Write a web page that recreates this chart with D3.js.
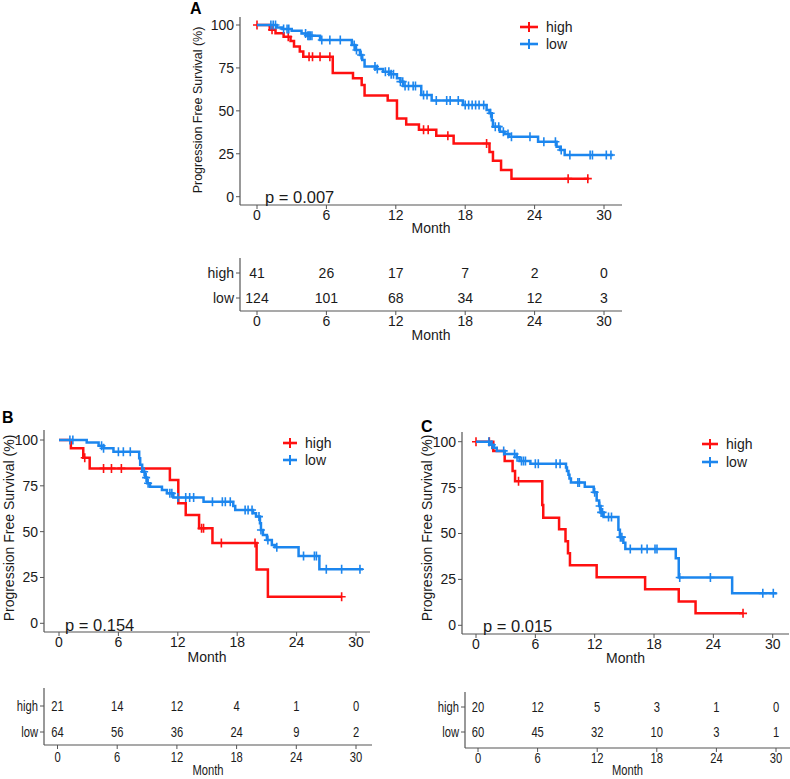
<!DOCTYPE html>
<html><head><meta charset="utf-8">
<script src="https://cdn.jsdelivr.net/npm/d3@7"></script>
<style>
body{margin:0;background:#fff}
svg{display:block}
text{font-family:Arial,"Liberation Sans",sans-serif;fill:#1a1a1a}
</style>
</head><body>
<svg id="chart" width="790" height="779"></svg>
<script>
// ---------- data ----------
const monthTicks = [0, 6, 12, 18, 24, 30];
const survTicks = [0, 25, 50, 75, 100];
const groups = ["high", "low"];
const groupColors = ["#FF1010", "#1C86EE"];

// Panel A
const A_highTimes = [1.1, 1.6, 2.3, 2.9, 3.2, 3.7, 4.0, 6.55, 8.3, 9.05, 9.3, 11.3, 12.1, 12.9, 14.0, 15.5, 17.0, 20.1, 20.4, 21.1, 22.0];
const A_highSurv  = [97.2, 95.2, 93.2, 90.7, 87.5, 84.5, 81.5, 72.0, 69.0, 65.0, 59.0, 56.0, 45.5, 42.0, 39.0, 35.5, 31.0, 26.0, 21.0, 15.5, 10.5];
const A_highCens  = [0, 1.3, 2.7, 4.5, 4.8, 5.45, 6.3, 14.4, 14.8, 16.5, 19.85, 26.9, 28.6];
const A_lowTimes  = [1.7, 2.2, 3.0, 3.85, 4.4, 5.45, 8.2, 8.5, 8.9, 9.1, 9.3, 10.35, 10.9, 11.5, 12.1, 12.4, 12.65, 14.2, 15.1, 17.8, 19.85, 20.1, 20.3, 20.4, 21.0, 21.4, 21.8, 24.3, 25.9, 26.2, 26.6];
const A_lowSurv   = [98.6, 97.7, 96.7, 95.1, 93.8, 91.3, 88.3, 85.4, 82.5, 79.6, 75.8, 74.4, 72.8, 71.3, 69.0, 67.0, 64.5, 59.2, 56.0, 53.4, 50.5, 48.6, 44.5, 40.8, 37.9, 36.5, 34.9, 32.0, 29.1, 27.2, 24.3];
const A_lowCens   = [1.2, 1.4, 1.6, 2.3, 2.6, 2.75, 4.2, 4.4, 4.5, 4.6, 4.75, 5.6, 6.3, 7.2, 8.4, 8.6, 9.0, 10.2, 10.4, 11.1, 11.4, 11.6, 11.8, 12.4, 12.6, 12.8, 13.1, 13.5, 13.7, 14.4, 14.7, 15.5, 16.4, 16.7, 17.4, 18.0, 18.3, 18.6, 18.9, 19.2, 19.6, 20.2, 20.6, 20.9, 21.3, 21.7, 22.0, 23.6, 24.8, 25.8, 26.3, 27.05, 28.8, 29.0, 30.2, 30.6];
const A_ends = [28.7, 30.8];
const A_riskHigh = [41, 26, 17, 7, 2, 0];
const A_riskLow  = [124, 101, 68, 34, 12, 3];

// Panel B
const B_highTimes = [1.2, 2.45, 3.1, 11.2, 12.05, 12.8, 14.15, 15.5, 19.96, 21.1];
const B_highSurv  = [95.5, 90.3, 84.5, 78.2, 65.5, 59.1, 51.8, 43.8, 29.4, 14.5];
const B_highCens  = [2.6, 4.5, 5.3, 6.3, 14.4, 14.6, 16.4, 19.8, 28.55];
const B_lowTimes  = [2.8, 4.0, 4.5, 5.5, 8.1, 8.2, 8.4, 8.7, 8.9, 9.2, 10.4, 10.9, 11.55, 14.6, 17.6, 17.8, 19.6, 19.9, 20.3, 20.4, 20.6, 21.0, 21.5, 21.8, 24.2, 26.3];
const B_lowSurv   = [98.7, 96.9, 95.5, 93.6, 90.0, 86.5, 82.7, 79.5, 76.4, 74.5, 72.7, 70.9, 68.6, 66.3, 64.0, 61.8, 60.0, 58.2, 54.6, 50.9, 48.2, 45.4, 42.7, 41.5, 36.7, 29.5];
const B_lowCens   = [1.1, 1.4, 4.3, 4.5, 6.0, 6.5, 7.2, 8.6, 8.8, 9.0, 11.2, 11.4, 12.0, 12.8, 13.2, 13.6, 15.5, 16.5, 16.8, 17.3, 18.8, 19.1, 19.5, 20.2, 20.4, 21.1, 22.0, 24.7, 25.8, 26.0, 27.0, 28.55, 30.4];
const B_ends = [28.6, 30.7];
const B_riskHigh = [21, 14, 12, 4, 1, 0];
const B_riskLow  = [64, 56, 36, 24, 9, 2];

// Panel C
const C_highTimes = [1.75, 2.9, 3.7, 3.95, 6.7, 6.8, 8.4, 9.05, 9.3, 9.5, 12.2, 17.1, 20.5, 22.2];
const C_highSurv  = [95.0, 89.5, 84.0, 78.5, 65.5, 58.6, 52.3, 45.8, 39.2, 32.7, 26.2, 19.6, 13.0, 6.5];
const C_highCens  = [0, 1.35, 4.3, 27.0];
const C_lowTimes  = [1.4, 1.8, 2.1, 2.9, 4.1, 4.4, 5.5, 9.1, 9.2, 9.35, 9.45, 9.6, 11.0, 11.9, 12.2, 12.45, 12.6, 12.9, 14.4, 14.55, 14.9, 15.1, 20.2, 20.5, 25.9];
const C_lowSurv   = [98.3, 96.7, 95.0, 93.3, 91.5, 89.5, 88.0, 86.0, 84.0, 82.0, 80.0, 77.8, 75.5, 72.5, 68.0, 65.0, 61.5, 59.0, 52.0, 48.0, 45.0, 41.5, 36.5, 26.0, 17.4];
const C_lowCens   = [1.3, 1.6, 2.8, 3.9, 4.15, 4.6, 4.8, 5.0, 6.0, 6.3, 8.1, 8.5, 10.3, 10.45, 12.0, 12.5, 12.65, 12.8, 13.4, 13.7, 14.6, 14.75, 15.6, 16.75, 17.3, 18.1, 18.3, 20.6, 23.7, 29.0, 30.06];
const C_ends = [27.0, 30.4];
const C_riskHigh = [20, 12, 5, 3, 1, 0];
const C_riskLow  = [60, 45, 32, 10, 3, 1];

// ---------- drawing ----------
const svg = d3.select("#chart");
const axisColor = "#555";

function survAt(times, surv, t) {
  let s = 100;
  for (let i = 0; i < times.length; i++) if (times[i] <= t + 1e-9) s = surv[i];
  return s;
}

function drawPanel(cfg, curves, risks) {
  const g = svg.append("g");
  const x = d3.scaleLinear().domain([0, 30]).range([cfg.x0, cfg.x1]);
  const y = d3.scaleLinear().domain([0, 100]).range([cfg.yBot, cfg.yTop]);

  // axes
  g.append("line").attr("x1", cfg.axisX).attr("x2", cfg.axisX).attr("y1", cfg.axisTop).attr("y2", cfg.axisY)
    .attr("stroke", axisColor).attr("stroke-width", 1.2);
  g.append("line").attr("x1", cfg.axisX).attr("x2", cfg.axisRight).attr("y1", cfg.axisY).attr("y2", cfg.axisY)
    .attr("stroke", axisColor).attr("stroke-width", 1.2);
  survTicks.forEach(v => {
    g.append("line").attr("x1", cfg.axisX - 4).attr("x2", cfg.axisX).attr("y1", y(v)).attr("y2", y(v)).attr("stroke", axisColor);
    g.append("text").attr("x", cfg.axisX - 6).attr("y", y(v)).attr("dy", "0.35em").attr("text-anchor", "end")
      .attr("font-size", 14).text(v);
  });
  monthTicks.forEach(v => {
    g.append("line").attr("x1", x(v)).attr("x2", x(v)).attr("y1", cfg.axisY).attr("y2", cfg.axisY + 4).attr("stroke", axisColor);
    g.append("text").attr("x", x(v)).attr("y", cfg.tickY).attr("dy", "0.35em").attr("text-anchor", "middle")
      .attr("font-size", 14).text(v);
  });
  g.append("text").attr("x", (cfg.axisX + cfg.axisRight) / 2).attr("y", cfg.monthY).attr("dy", "0.35em")
    .attr("text-anchor", "middle").attr("font-size", 14).text("Month");
  g.append("text").attr("transform", `translate(${cfg.ytX},${cfg.ytY}) rotate(-90)`).attr("dy", "0.35em")
    .attr("text-anchor", "middle").attr("font-size", cfg.ytSize).text("Progression Free Survival (%)");
  g.append("text").attr("x", cfg.labX).attr("y", cfg.labY).attr("font-size", 16).attr("font-weight", "bold")
    .style("fill", "#000").text(cfg.label);

  // curves
  const line = d3.line().x(d => x(d[0])).y(d => y(d[1])).curve(d3.curveStepAfter);
  curves.forEach((c, i) => {
    const pts = [[0, 100]].concat(c.times.map((t, k) => [t, c.surv[k]]));
    pts.push([c.end, c.surv[c.surv.length - 1]]);
    g.append("path").attr("d", line(pts)).attr("fill", "none").attr("stroke", groupColors[i]).attr("stroke-width", 2.5);
    c.cens.forEach(t => {
      const cx = x(t), cy = y(survAt(c.times, c.surv, t));
      g.append("path").attr("d", `M${cx - 4},${cy}H${cx + 4}M${cx},${cy - 4.5}V${cy + 4.5}`)
        .attr("stroke", groupColors[i]).attr("stroke-width", 1.6);
    });
  });

  // legend
  groups.forEach((nm, i) => {
    const ly = cfg.legY[i];
    g.append("line").attr("x1", cfg.legX0).attr("x2", cfg.legX1).attr("y1", ly).attr("y2", ly)
      .attr("stroke", groupColors[i]).attr("stroke-width", 2.6);
    const mx = (cfg.legX0 + cfg.legX1) / 2;
    g.append("path").attr("d", `M${mx},${ly - 5}V${ly + 5}`).attr("stroke", groupColors[i]).attr("stroke-width", 2);
    g.append("text").attr("x", cfg.legX1 + 8).attr("y", ly).attr("dy", "0.35em").attr("font-size", 14).text(nm);
  });

  // p value
  g.append("text").attr("x", cfg.pX).attr("y", cfg.pY).attr("dy", "0.35em").attr("font-size", 16.5).text(cfg.p);

  // risk table
  const t = cfg.table;
  const xt = d3.scaleLinear().domain([0, 30]).range([t.x0, t.x1]);
  const sq = t.squeeze;
  function txt(px, py, s, anchor) {
    g.append("text").attr("transform", `translate(${px},${py}) scale(${sq},1)`).attr("dy", "0.35em")
      .attr("text-anchor", anchor).attr("font-size", 14).text(s);
  }
  g.append("line").attr("x1", t.axisX).attr("x2", t.axisX).attr("y1", t.axisTop).attr("y2", t.axisY)
    .attr("stroke", axisColor).attr("stroke-width", 1.2);
  g.append("line").attr("x1", t.axisX).attr("x2", t.axisRight).attr("y1", t.axisY).attr("y2", t.axisY)
    .attr("stroke", axisColor).attr("stroke-width", 1.2);
  groups.forEach((nm, i) => {
    const ry = t.rowY[i];
    g.append("line").attr("x1", t.axisX - 4).attr("x2", t.axisX).attr("y1", ry).attr("y2", ry).attr("stroke", axisColor);
    txt(t.axisX - 6, ry, nm, "end");
    risks[i].forEach((v, k) => txt(xt(monthTicks[k]), ry, v, "middle"));
  });
  monthTicks.forEach(v => {
    g.append("line").attr("x1", xt(v)).attr("x2", xt(v)).attr("y1", t.axisY).attr("y2", t.axisY + 4).attr("stroke", axisColor);
    txt(xt(v), t.tickY, v, "middle");
  });
  txt((t.axisX + t.axisRight) / 2, t.monthY, "Month", "middle");
}

drawPanel({
  x0: 257, x1: 604, yTop: 25, yBot: 196.7, axisX: 240, axisTop: 17, axisY: 205, axisRight: 622,
  tickY: 215, monthY: 228, ytX: 198, ytY: 110, ytSize: 12.5, label: "A", labX: 190, labY: 14,
  legX0: 520, legX1: 538, legY: [27, 44], p: "p = 0.007", pX: 265, pY: 197,
  table: { x0: 257, x1: 604, axisX: 240, axisTop: 258, axisY: 311, axisRight: 622, rowY: [273, 298], tickY: 321, monthY: 335, squeeze: 1 }
}, [
  { times: A_highTimes, surv: A_highSurv, cens: A_highCens, end: A_ends[0] },
  { times: A_lowTimes, surv: A_lowSurv, cens: A_lowCens, end: A_ends[1] }
], [A_riskHigh, A_riskLow]);

drawPanel({
  x0: 59, x1: 356, yTop: 440, yBot: 623.3, axisX: 44, axisTop: 430, axisY: 632, axisRight: 370,
  tickY: 642, monthY: 657, ytX: 9, ytY: 528, ytSize: 14, label: "B", labX: 2, labY: 423,
  legX0: 283, legX1: 297, legY: [443, 460], p: "p = 0.154", pX: 65, pY: 625,
  table: { x0: 57.5, x1: 356, axisX: 44, axisTop: 688, axisY: 745, axisRight: 372, rowY: [706, 732], tickY: 757, monthY: 770, squeeze: 0.8 }
}, [
  { times: B_highTimes, surv: B_highSurv, cens: B_highCens, end: B_ends[0] },
  { times: B_lowTimes, surv: B_lowSurv, cens: B_lowCens, end: B_ends[1] }
], [B_riskHigh, B_riskLow]);

drawPanel({
  x0: 476, x1: 772.7, yTop: 441.7, yBot: 625.3, axisX: 462, axisTop: 432, axisY: 634, axisRight: 789,
  tickY: 644, monthY: 658, ytX: 427, ytY: 528, ytSize: 14, label: "C", labX: 421, labY: 432,
  legX0: 702, legX1: 718, legY: [444, 462], p: "p = 0.015", pX: 483, pY: 626,
  table: { x0: 478, x1: 776, axisX: 465, axisTop: 692, axisY: 748, axisRight: 790, rowY: [707, 732], tickY: 758, monthY: 770, squeeze: 0.8 }
}, [
  { times: C_highTimes, surv: C_highSurv, cens: C_highCens, end: C_ends[0] },
  { times: C_lowTimes, surv: C_lowSurv, cens: C_lowCens, end: C_ends[1] }
], [C_riskHigh, C_riskLow]);
</script>
</body></html>
